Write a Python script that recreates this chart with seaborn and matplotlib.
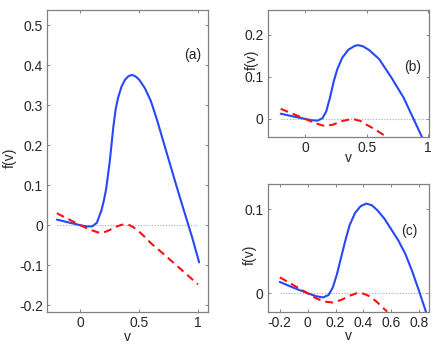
import matplotlib
matplotlib.use("Agg")
import pandas as pd
import matplotlib.pyplot as plt
import seaborn as sns

# Panel (a)
a_blue_v = [-0.2, -0.1, 0.0, 0.05, 0.1, 0.14, 0.18, 0.2, 0.22, 0.25, 0.28, 0.3, 0.32, 0.35,
            0.38, 0.41, 0.44, 0.47, 0.5, 0.55, 0.6, 0.65, 0.7, 0.75, 0.8, 0.85, 0.9, 0.95, 1.01]
a_blue_f = [0.014, 0.007, 0.0, -0.003, -0.003, 0.006, 0.038, 0.062, 0.092, 0.16, 0.245, 0.29, 0.318, 0.347,
            0.364, 0.373, 0.376, 0.372, 0.364, 0.342, 0.31, 0.265, 0.215, 0.165, 0.115, 0.066, 0.018, -0.03, -0.093]
a_red_v = [-0.2, -0.1, 0.0, 0.08, 0.15, 0.2, 0.25, 0.3, 0.35, 0.38, 0.42, 0.45, 0.5, 0.55,
           0.6, 0.7, 0.8, 0.9, 1.0]
a_red_f = [0.03, 0.015, 0.0, -0.011, -0.018, -0.018, -0.012, -0.004, 0.001, 0.002, 0.0, -0.005, -0.016, -0.03,
           -0.045, -0.07, -0.096, -0.122, -0.148]

# Panel (b)
b_blue_v = [-0.2, -0.1, 0.0, 0.05, 0.1, 0.14, 0.17, 0.2, 0.23, 0.26, 0.3, 0.35, 0.4, 0.43,
            0.47, 0.52, 0.6, 0.7, 0.8, 0.88, 0.96]
b_blue_f = [0.0125, 0.006, 0.0, -0.003, -0.004, 0.002, 0.018, 0.05, 0.088, 0.118, 0.145, 0.164, 0.173, 0.175,
            0.172, 0.163, 0.142, 0.098, 0.05, 0.0, -0.05]
b_red_v = [-0.2, -0.1, 0.0, 0.08, 0.15, 0.22, 0.3, 0.36, 0.4, 0.45, 0.5, 0.55, 0.6, 0.67]
b_red_f = [0.024, 0.012, 0.0, -0.01, -0.016, -0.014, -0.005, -0.001, -0.001, -0.005, -0.014, -0.022, -0.031, -0.044]

# Panel (c)
c_blue_v = [-0.2, -0.1, 0.0, 0.06, 0.11, 0.15, 0.18, 0.21, 0.24, 0.27, 0.3, 0.34, 0.38, 0.42,
            0.46, 0.5, 0.55, 0.6, 0.65, 0.7, 0.75, 0.8, 0.86]
c_blue_f = [0.0135, 0.0065, 0.0, -0.0035, -0.005, -0.002, 0.007, 0.023, 0.043, 0.063, 0.081, 0.096, 0.104, 0.107,
            0.105, 0.099, 0.089, 0.076, 0.063, 0.047, 0.026, 0.002, -0.028]
c_red_v = [-0.2, -0.1, 0.0, 0.06, 0.12, 0.18, 0.24, 0.3, 0.35, 0.4, 0.45, 0.5, 0.57]
c_red_f = [0.019, 0.0095, 0.0, -0.006, -0.01, -0.011, -0.008, -0.003, 0.0, -0.0005, -0.004, -0.011, -0.022]

# zero reference line
zero_v = [-0.2, 1.0]
zero_f = [0.0, 0.0]

sns.set_style("white")
plt.rcParams['font.family'] = ['Liberation Sans', 'DejaVu Sans']

fig = plt.figure(figsize=(4.36, 3.45), dpi=100)

panels = [
    # name, rect, xlim, ylim, xticks, yticks, blue, red, label pos, ylabel pos, xlabel pos
    ("(a)", [0.108, 0.0957, 0.369, 0.875], (-0.283, 1.085), (-0.217, 0.538),
     [0, 0.5, 1], [-0.2, -0.1, 0, 0.1, 0.2, 0.3, 0.4, 0.5],
     (a_blue_v, a_blue_f), (a_red_v, a_red_f), (0.957, 0.426), (-0.23, 0.51), -0.083),
    ("(b)", [0.614, 0.6038, 0.3706, 0.367], (-0.306, 1.008), (-0.042, 0.258),
     [0, 0.5, 1], [0, 0.1, 0.2],
     (b_blue_v, b_blue_f), (b_red_v, b_red_f), (0.873, 0.124), (-0.097, 0.61), -0.172),
    ("(c)", [0.614, 0.0965, 0.3706, 0.3693], (-0.287, 0.872), (-0.022, 0.13),
     [-0.2, 0, 0.2, 0.4, 0.6, 0.8], [0, 0.1],
     (c_blue_v, c_blue_f), (c_red_v, c_red_f), (0.728, 0.074), (-0.114, 0.45), -0.19),
]

for name, rect, xlim, ylim, xt, yt, blue, red, lpos, ylpos, xlpos in panels:
    ax = fig.add_axes(rect)
    sns.lineplot(x=zero_v, y=zero_f, ax=ax, color="#9aa4ff", lw=0.8, linestyle=(0, (1, 1.5)))
    sns.lineplot(x=blue[0], y=blue[1], ax=ax, color="#2748f8", lw=1.5, sort=False, estimator=None)
    sns.lineplot(x=red[0], y=red[1], ax=ax, color="#ff1010", lw=1.5, sort=False, estimator=None,
                 linestyle=(0, (3.8, 2.4)))
    ax.set_xlim(*xlim)
    ax.set_ylim(*ylim)
    ax.set_xticks(xt)
    ax.set_yticks(yt)
    ax.set_xticklabels([f"{t:g}" for t in xt])
    ax.set_yticklabels([f"{t:g}" for t in yt])
    ax.tick_params(direction="in", length=2.5, width=0.6, color="#707070", labelsize=10,
                   top=True, right=True, bottom=True, left=True, pad=3)
    ax.tick_params(axis="x", pad=3)
    for s in ax.spines.values():
        s.set_color("#808080")
        s.set_linewidth(0.9)
    ax.set_xlabel("v", fontsize=10, va="center")
    ax.set_ylabel("f(v)", fontsize=10, va="center", ha="center")
    ax.xaxis.set_label_coords(0.5, xlpos)
    ax.yaxis.set_label_coords(*ylpos)
    ax.text(lpos[0], lpos[1], name, fontsize=10, ha="center", va="center")

fig.savefig("out.png", dpi=100)
